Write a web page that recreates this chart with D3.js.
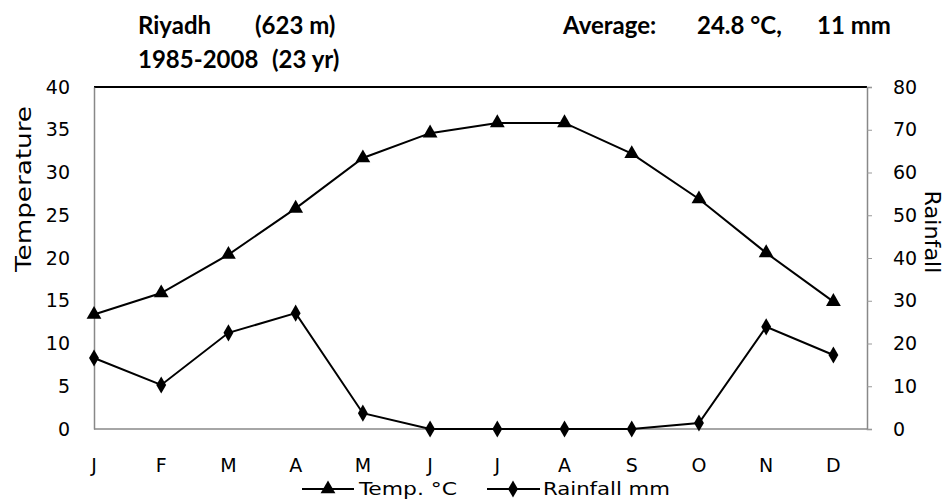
<!doctype html>
<html lang="en">
<head>
<meta charset="utf-8">
<title>Riyadh climate</title>
<style>
  body { margin: 0; background: #fff; }
  svg text { fill: #000; }
  .tick text { font: 19px "DejaVu Sans", sans-serif; }
  .title { font: bold 24px Lato, "Open Sans", sans-serif; }
  .axtitle { font: 21px "DejaVu Sans", sans-serif; }
  .legend text { font: 18px "Liberation Sans Narrow", "DejaVu Sans Condensed", sans-serif; }
</style>
</head>
<body>
<svg id="chart" width="949" height="500"></svg>
<script src="https://cdn.jsdelivr.net/npm/d3@7"></script>
<script>
const months = ["J", "F", "M", "A", "M", "J", "J", "A", "S", "O", "N", "D"];
const temp = [13.4, 15.9, 20.4, 25.8, 31.7, 34.6, 35.8, 35.8, 32.2, 26.9, 20.6, 14.9];
const rain = [16.6, 10.3, 22.5, 27.1, 3.7, 0, 0, 0, 0, 1.4, 23.9, 17.3];
const tempTicks = [0, 5, 10, 15, 20, 25, 30, 35, 40];
const rainTicks = [0, 10, 20, 30, 40, 50, 60, 70, 80];

const svg = d3.select("#chart");
const pl = 94, pr = 867, pt = 87, pb = 429;

// months sit on ticks from the left axis, with half a slot spare on the right
const x = d3.scaleLinear().domain([0, 11.5]).range([pl, pr]);
const yT = d3.scaleLinear().domain([0, 40]).range([pb, pt]);
const yR = d3.scaleLinear().domain([0, 80]).range([pb, pt]);

// frame
svg.append("line").attr("x1", pl).attr("x2", pr).attr("y1", pt).attr("y2", pt)
  .attr("stroke", "#000").attr("stroke-width", 2);
svg.append("line").attr("x1", pl).attr("x2", pr).attr("y1", pb).attr("y2", pb)
  .attr("stroke", "#888").attr("stroke-width", 1.5);

const gl = svg.append("g").attr("transform", `translate(${pl},0)`)
  .call(d3.axisLeft(yT).tickValues(tempTicks).tickSize(0).tickPadding(24));
gl.select(".domain").attr("stroke", "#888").attr("stroke-width", 1.5);

const gr = svg.append("g").attr("transform", `translate(${pr},0)`)
  .call(d3.axisRight(yR).tickValues(rainTicks).tickSize(5).tickPadding(21));
gr.select(".domain").attr("stroke", "#888").attr("stroke-width", 1.5);
gr.selectAll(".tick line").attr("stroke", "#999");

svg.append("g").selectAll("text").data(months).join("text")
  .attr("x", (d, i) => x(i)).attr("y", 472)
  .attr("text-anchor", "middle").style("font", "19px 'DejaVu Sans', sans-serif").text(d => d);

// axis titles
svg.append("text").attr("class", "axtitle").attr("text-anchor", "middle")
  .attr("textLength", 166).attr("lengthAdjust", "spacingAndGlyphs")
  .attr("transform", "translate(31,189) rotate(-90)").text("Temperature");
svg.append("text").attr("class", "axtitle").attr("text-anchor", "middle")
  .attr("textLength", 83).attr("lengthAdjust", "spacingAndGlyphs")
  .attr("transform", "translate(925,232) rotate(90)").text("Rainfall");

// titles
const t = [
  ["Riyadh", 138, 34], ["(623 m)", 255, 34],
  ["1985-2008", 138, 68], ["(23 yr)", 272, 68],
  ["Average:", 563, 34], ["24.8 °C,", 697, 34], ["11 mm", 817, 34]
];
svg.append("g").selectAll("text").data(t).join("text")
  .attr("class", "title").attr("x", d => d[1]).attr("y", d => d[2]).text(d => d[0]);

// series
const lineT = d3.line().x((d, i) => x(i)).y(d => yT(d));
const lineR = d3.line().x((d, i) => x(i)).y(d => yR(d));
svg.append("path").datum(temp).attr("d", lineT).attr("fill", "none").attr("stroke", "#000").attr("stroke-width", 2);
svg.append("path").datum(rain).attr("d", lineR).attr("fill", "none").attr("stroke", "#000").attr("stroke-width", 2);

const tri = d3.symbol().type(d3.symbolTriangle).size(95);
const dia = d3.symbol().type(d3.symbolDiamond).size(85);
svg.append("g").selectAll("path").data(temp).join("path")
  .attr("d", tri).attr("transform", (d, i) => `translate(${x(i)},${yT(d)})`);
svg.append("g").selectAll("path").data(rain).join("path")
  .attr("d", dia).attr("transform", (d, i) => `translate(${x(i)},${yR(d)})`);

// legend
const lg = svg.append("g").attr("class", "legend");
lg.append("line").attr("x1", 302).attr("x2", 354).attr("y1", 489).attr("y2", 489).attr("stroke", "#000").attr("stroke-width", 2);
lg.append("path").attr("d", tri).attr("transform", "translate(328,489)");
lg.append("text").attr("x", 359).attr("y", 495).attr("textLength", 98).attr("lengthAdjust", "spacingAndGlyphs").text("Temp. °C");
lg.append("line").attr("x1", 487).attr("x2", 540).attr("y1", 489).attr("y2", 489).attr("stroke", "#000").attr("stroke-width", 2);
lg.append("path").attr("d", dia).attr("transform", "translate(513,489)");
lg.append("text").attr("x", 543).attr("y", 495).attr("textLength", 127).attr("lengthAdjust", "spacingAndGlyphs").text("Rainfall mm");
</script>
</body>
</html>
